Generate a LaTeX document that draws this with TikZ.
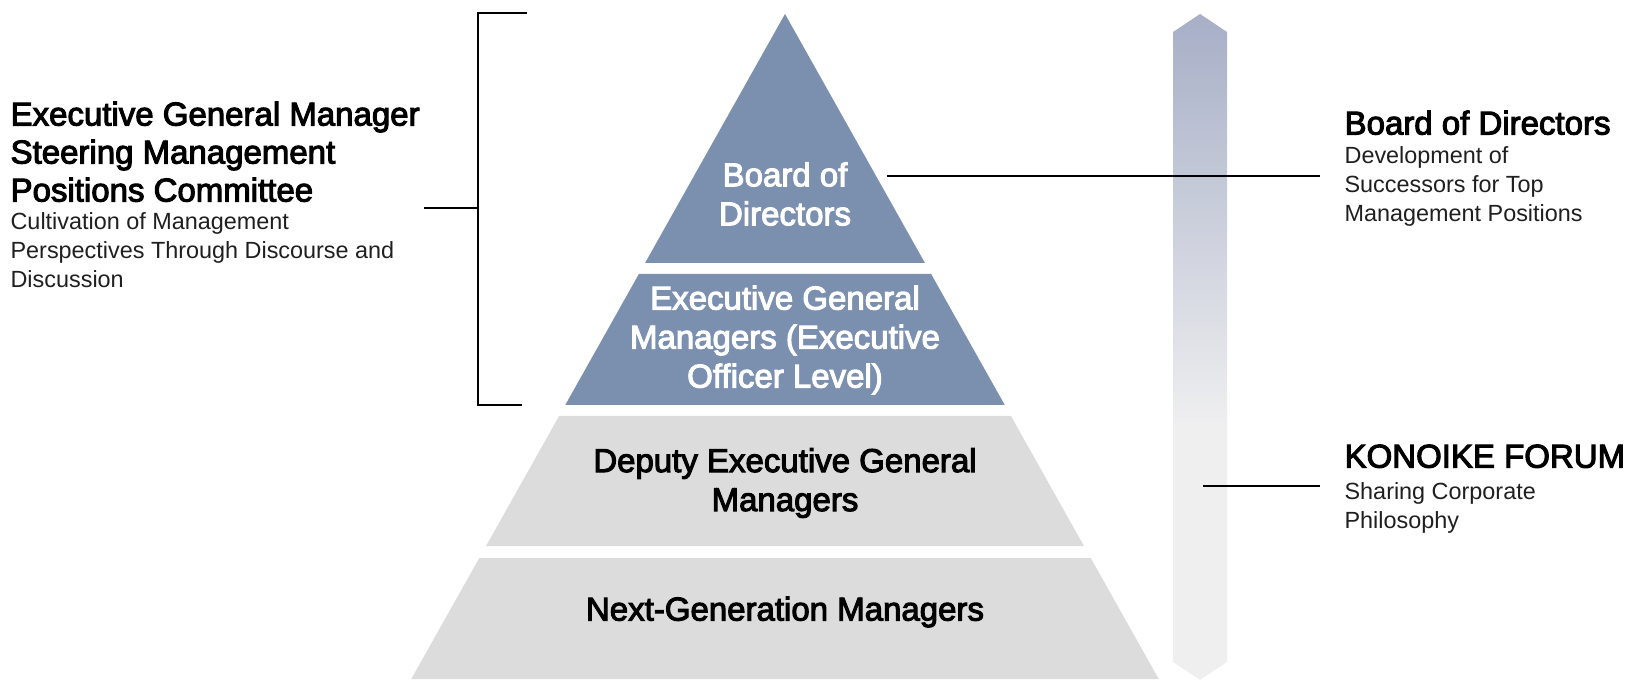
\documentclass[tikz,border=0pt]{standalone}
\usepackage{fontspec}
\setmainfont{Liberation Sans}
\newfontfamily\medfont{Liberation Sans}[FakeBold=3.2]
\usetikzlibrary{positioning,shapes}

\definecolor{tierblue}{HTML}{7B8FAF}
\definecolor{tiergray}{HTML}{DCDCDC}
\definecolor{bartop}{HTML}{A7AFC7}
\definecolor{barbot}{HTML}{EFEFF0}
\pgfdeclareverticalshading{barfade}{100bp}{color(0bp)=(barbot); color(44bp)=(barbot); color(75bp)=(bartop); color(100bp)=(bartop)}

\begin{document}
\begin{tikzpicture}[x=0.5pt,y=-0.5pt,line width=0.6pt]
\tikzstyle{tierlabel}=[inner sep=0pt, align=center, font=\medfont\fontsize{16.5}{19.5}\selectfont]
\tikzstyle{headline}=[inner sep=0pt, align=left, anchor=north west, font=\medfont\fontsize{16.5}{19}\selectfont]
\tikzstyle{noteline}=[inner sep=0pt, align=left, anchor=north west, text=black!88, font=\fontsize{11.7}{14.5}\selectfont]

\useasboundingbox (0,0) rectangle (1631,694);

% pyramid bands: top y / bottom y / colour
\foreach \t/\b/\c in {14/263/tierblue, 274/405/tierblue, 416/546/tiergray, 558/679/tiergray}
  \fill[\c] ({785-0.562*(\t-14)},\t) -- ({785+0.562*(\t-14)},\t) -- ({785+0.562*(\b-14)},\b) -- ({785-0.562*(\b-14)},\b) -- cycle;

% arrow bar
\shade[shading=barfade] (1173,32) -- (1200,14) -- (1227,32) -- (1227,662) -- (1200,680) -- (1173,662) -- cycle;

\node[tierlabel,text=white]   (board)   at (785,194) {Board of\\Directors};
\node[tierlabel,text=white]   (exec)    at (785,340) {Executive General\\Managers (Executive\\Officer Level)};
\node[tierlabel]              (deputy)  at (785,483) {Deputy Executive General\\Managers};
\node[tierlabel]              (nextgen) at (785,612) {Next-Generation Managers};

\node[headline] (egmhead) at (10,101) {Executive General Manager\\Steering Management\\Positions Committee};
\node[noteline] (egmnote) [below=5pt of egmhead.south west, anchor=north west] {Cultivation of Management\\Perspectives Through Discourse and\\Discussion};

\node[headline] (bodhead) at (1344,110) {Board of Directors};
\node[noteline] (bodnote) [below=5.5pt of bodhead.south west, anchor=north west] {Development of\\Successors for Top\\Management Positions};

\node[headline] (forumhead) at (1344,444) {KONOIKE FORUM};
\node[noteline] (forumnote) [below=6.5pt of forumhead.south west, anchor=north west] {Sharing Corporate\\Philosophy};

% bracket round the two upper tiers
\coordinate (brtop) at (478,13);
\coordinate (brbot) at (478,405);
\coordinate (brmid) at (478,208);
\coordinate (armL)  at (424,208);
\draw (527,13) -- (brtop) -- (brbot) -- (522,405);
\draw (armL) -- (brmid);

% leader lines
\coordinate (boardtip) at (887,176);
\coordinate (bartip)   at (1203,486);
\draw (boardtip) -- ([xshift=-12pt]bodnote.west |- boardtip);
\draw (bartip) -- ([xshift=-12pt]forumnote.west |- bartip);
\end{tikzpicture}
\end{document}
